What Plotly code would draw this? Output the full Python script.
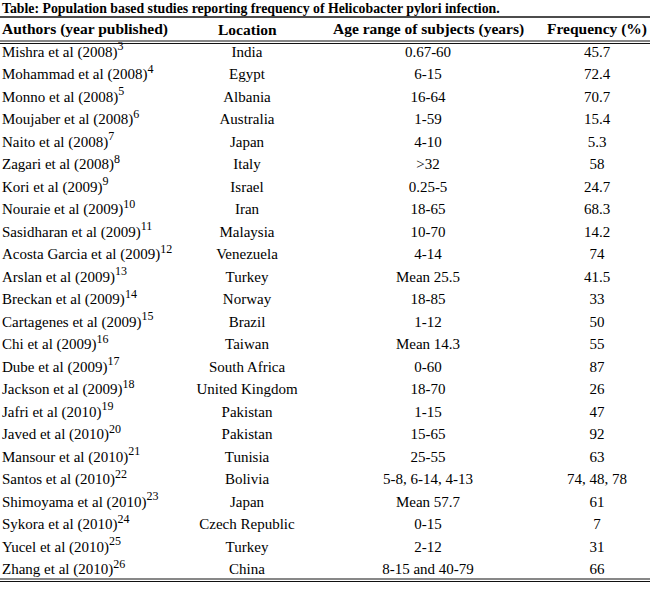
import plotly.graph_objects as go

# table contents
authors = ['Mishra et al', 'Mohammad et al', 'Monno et al', 'Moujaber et al',
           'Naito et al', 'Zagari et al', 'Kori et al', 'Nouraie et al',
           'Sasidharan et al', 'Acosta Garcia et al', 'Arslan et al',
           'Breckan et al', 'Cartagenes et al', 'Chi et al', 'Dube et al',
           'Jackson et al', 'Jafri et al', 'Javed et al', 'Mansour et al',
           'Santos et al', 'Shimoyama et al', 'Sykora et al', 'Yucel et al',
           'Zhang et al']
years = [2008, 2008, 2008, 2008, 2008, 2008, 2009, 2009, 2009, 2009, 2009, 2009,
         2009, 2009, 2009, 2009, 2010, 2010, 2010, 2010, 2010, 2010, 2010, 2010]
refs = list(range(3, 27))
locations = ['India', 'Egypt', 'Albania', 'Australia', 'Japan', 'Italy', 'Israel',
             'Iran', 'Malaysia', 'Venezuela', 'Turkey', 'Norway', 'Brazil',
             'Taiwan', 'South Africa', 'United Kingdom', 'Pakistan', 'Pakistan',
             'Tunisia', 'Bolivia', 'Japan', 'Czech Republic', 'Turkey', 'China']
age_ranges = ['0.67-60', '6-15', '16-64', '1-59', '4-10', '>32', '0.25-5', '18-65',
              '10-70', '4-14', 'Mean 25.5', '18-85', '1-12', 'Mean 14.3', '0-60',
              '18-70', '1-15', '15-65', '25-55', '5-8, 6-14, 4-13', 'Mean 57.7',
              '0-15', '2-12', '8-15 and 40-79']
frequencies = ['45.7', '72.4', '70.7', '15.4', '5.3', '58', '24.7', '68.3', '14.2',
               '74', '41.5', '33', '50', '55', '87', '26', '47', '92', '63',
               '74, 48, 78', '61', '7', '31', '66']
headers = ['Authors (year published)', 'Location',
           'Age range of subjects (years)', 'Frequency (%)']
title = 'Table: Population based studies reporting frequency of Helicobacter pylori infection.'

W, H = 650, 590
ROW0, PITCH = 53, 22.5          # pixel centre of first row, row pitch
serif = 'Liberation Serif, Times New Roman, serif'
body_font = dict(family=serif, size=15, color='black')
head_font = dict(family=serif, size=15.5, color='black')

# column anchors in x-axis units (axis spans the page width)
col_x = [2, 247, 428, 597]
col_pos = ['middle right', 'middle center', 'middle center', 'middle center']

author_cells = [f'{a} ({y})<sup><span style="font-size:12px">{r}</span></sup>'
                for a, y, r in zip(authors, years, refs)]
rows = list(range(len(authors)))
columns = [author_cells, locations, age_ranges, frequencies]

fig = go.Figure()
for cx, pos, col in zip(col_x, col_pos, columns):
    fig.add_trace(go.Scatter(
        x=[cx] * len(col), y=rows, text=col,
        mode='text', textposition=pos, textfont=body_font,
        hoverinfo='skip', showlegend=False,
    ))


def py(p):
    # pixel row -> paper y (margins are zero)
    return (H - p) / H


# header labels
for cx, h, xa in zip(col_x, headers, ['left', 'center', 'center', 'center']):
    fig.add_annotation(
        text=f'<b>{h}</b>', xref='x', yref='paper',
        x=cx - 2 if xa == 'left' else cx, y=py(29),
        xanchor=xa, yanchor='middle', showarrow=False, font=head_font,
    )

fig.add_annotation(
    text=f'<b>{title}</b>', xref='paper', yref='paper',
    x=0, y=py(8), xanchor='left', yanchor='middle', showarrow=False,
    font=dict(family=serif, size=13.8, color='black'),
)

# horizontal rules: thin under title, double under header and at the bottom
rules = [(17, 1.5), (41, 1), (43.5, 1), (579, 1), (581.5, 1)]
for p, w in rules:
    fig.add_shape(type='line', xref='paper', yref='paper',
                  x0=0, x1=1, y0=py(p), y1=py(p),
                  line=dict(color='#111111', width=w))

fig.update_layout(
    width=W, height=H,
    margin=dict(l=0, r=0, t=0, b=0),
    paper_bgcolor='white',
    plot_bgcolor='white',
    xaxis=dict(range=[0, W], visible=False, fixedrange=True),
    yaxis=dict(range=[(H - ROW0) / PITCH, -ROW0 / PITCH],
               visible=False, fixedrange=True),
)

# drop the page's default body margin so the figure sits at the window corner
fig.write_html('out.html', post_script="document.body.style.margin='0';",
               config={'displayModeBar': False})
